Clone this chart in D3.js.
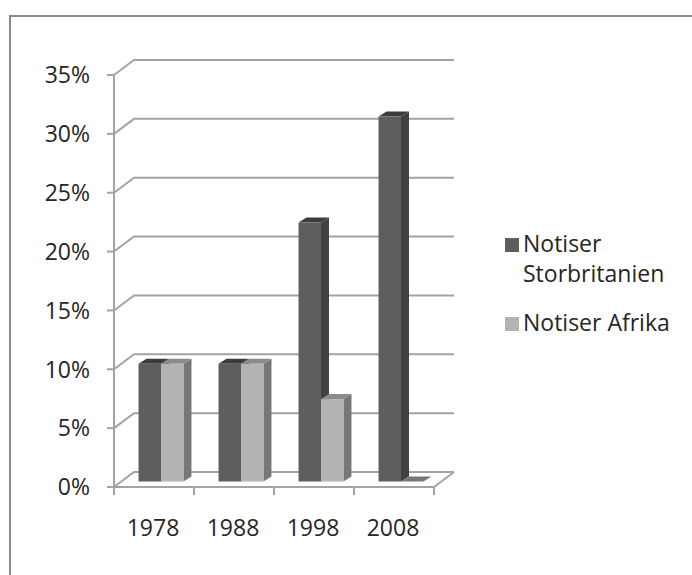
<!DOCTYPE html>
<html>
<head>
<meta charset="utf-8">
<script src="https://d3js.org/d3.v7.min.js"></script>
<style>
  body { margin: 0; background: #fff; }
  text { font-family: "Open Sans", sans-serif; fill: #262626; }
</style>
</head>
<body>
<div id="chart"></div>
<script>
// data
const years = ["1978", "1988", "1998", "2008"];
const seriesNames = ["Notiser Storbritanien", "Notiser Afrika"];
const storbritanien = [0.10, 0.10, 0.22, 0.31];
const afrika = [0.10, 0.10, 0.07, 0.00];
const yTicks = [0, 0.05, 0.10, 0.15, 0.20, 0.25, 0.30, 0.35];

const width = 692;
const height = 575;

// 3d look: back wall is shifted by depth offset
const depth = { dx: 20, dy: -15 };
const barShift = { dx: 7, dy: -5.5 };   // where the bars' front faces sit
const barDepth = { dx: 8, dy: -5 };

const colors = [
    { front: "#5e5e5e", side: "#404040", top: "#3c3c3c" },
    { front: "#b3b3b3", side: "#777777", top: "#8b8b8b" }
];

const svg = d3.select("#chart")
    .append("svg")
    .attr("width", width)
    .attr("height", height);

// outer border (runs off the right and bottom edge)
svg.append("rect")
    .attr("x", 10).attr("y", 16)
    .attr("width", 700).attr("height", 600)
    .attr("fill", "none")
    .attr("stroke", "#8a8a8a")
    .attr("stroke-width", 2);

const xScale = d3.scaleBand()
    .domain(years)
    .range([114, 434]);

const subScale = d3.scaleBand()
    .domain(seriesNames)
    .range([0, xScale.bandwidth()])
    .paddingOuter(0.78);

const yScale = d3.scaleLinear()
    .domain([0, 0.35])
    .range([487, 75]);

const gridColor = "#a3a3a3";
const x0 = xScale.range()[0];
const x1 = xScale.range()[1];

// gridlines: side wall diagonal + back wall line
const grid = svg.append("g");
yTicks.forEach(function (t) {
    const y = yScale(t);
    grid.append("polyline")
        .attr("points", [
            [x0, y], [x0 + depth.dx, y + depth.dy], [x1 + depth.dx, y + depth.dy]
        ].join(" "))
        .attr("fill", "none")
        .attr("stroke", gridColor)
        .attr("stroke-width", 2);
    // tick
    grid.append("line")
        .attr("x1", x0 - 7).attr("x2", x0)
        .attr("y1", y).attr("y2", y)
        .attr("stroke", gridColor).attr("stroke-width", 2);
});

// floor front edge
const y0 = yScale(0);
grid.append("polyline")
    .attr("points", [[x0, y0], [x1, y0], [x1 + depth.dx, y0 + depth.dy]].join(" "))
    .attr("fill", "none")
    .attr("stroke", gridColor)
    .attr("stroke-width", 2);

// vertical axis
grid.append("line")
    .attr("x1", x0).attr("x2", x0)
    .attr("y1", yScale(0.35)).attr("y2", y0)
    .attr("stroke", gridColor).attr("stroke-width", 2);

// category ticks
const catTicks = years.map(function (d) { return xScale(d); }).concat([x1]);
catTicks.forEach(function (x) {
    grid.append("line")
        .attr("x1", x).attr("x2", x)
        .attr("y1", y0).attr("y2", y0 + 8)
        .attr("stroke", gridColor).attr("stroke-width", 2);
});

// y labels
svg.append("g").selectAll("text")
    .data(yTicks)
    .enter()
    .append("text")
    .attr("x", 90)
    .attr("y", function (d) { return yScale(d); })
    .attr("dy", "0.36em")
    .attr("text-anchor", "end")
    .style("font-size", "23px")
    .text(function (d) { return d3.format(".0%")(d); });

// x labels
svg.append("g").selectAll("text")
    .data(years)
    .enter()
    .append("text")
    .attr("x", function (d) { return xScale(d) + xScale.bandwidth() / 2 - 1; })
    .attr("y", 536)
    .attr("text-anchor", "middle")
    .style("font-size", "23px")
    .text(function (d) { return d; });

// bars
const allSeries = [storbritanien, afrika];
const bars = svg.append("g");
years.forEach(function (year, i) {
    allSeries.forEach(function (values, s) {
        const v = values[i];
        const c = colors[s];
        const left = xScale(year) + subScale(seriesNames[s]) + barShift.dx;
        const right = left + subScale.bandwidth();
        const bottom = yScale(0) + barShift.dy;
        const top = yScale(v) + barShift.dy;

        // side face
        if (v > 0) {
            bars.append("polygon")
                .attr("points", [
                    [right, bottom], [right, top],
                    [right + barDepth.dx, top + barDepth.dy],
                    [right + barDepth.dx, bottom + barDepth.dy]
                ].join(" "))
                .attr("fill", c.side);
        }
        // top face
        bars.append("polygon")
            .attr("points", [
                [left, top], [right, top],
                [right + barDepth.dx, top + barDepth.dy],
                [left + barDepth.dx, top + barDepth.dy]
            ].join(" "))
            .attr("fill", v > 0 ? c.top : c.side);
        // front face
        if (v > 0) {
            bars.append("rect")
                .attr("x", left)
                .attr("y", top)
                .attr("width", subScale.bandwidth())
                .attr("height", bottom - top)
                .attr("fill", c.front);
        }
    });
});

// legend
const legend = svg.append("g");
legend.append("rect")
    .attr("x", 505).attr("y", 238)
    .attr("width", 14).attr("height", 14)
    .attr("fill", colors[0].front);
legend.append("text")
    .attr("x", 523).attr("y", 252)
    .style("font-size", "23px")
    .text("Notiser");
legend.append("text")
    .attr("x", 523).attr("y", 282)
    .style("font-size", "23px")
    .text("Storbritanien");
legend.append("rect")
    .attr("x", 505).attr("y", 317)
    .attr("width", 14).attr("height", 14)
    .attr("fill", colors[1].front);
legend.append("text")
    .attr("x", 523).attr("y", 331)
    .style("font-size", "23px")
    .text("Notiser Afrika");
</script>
</body>
</html>
